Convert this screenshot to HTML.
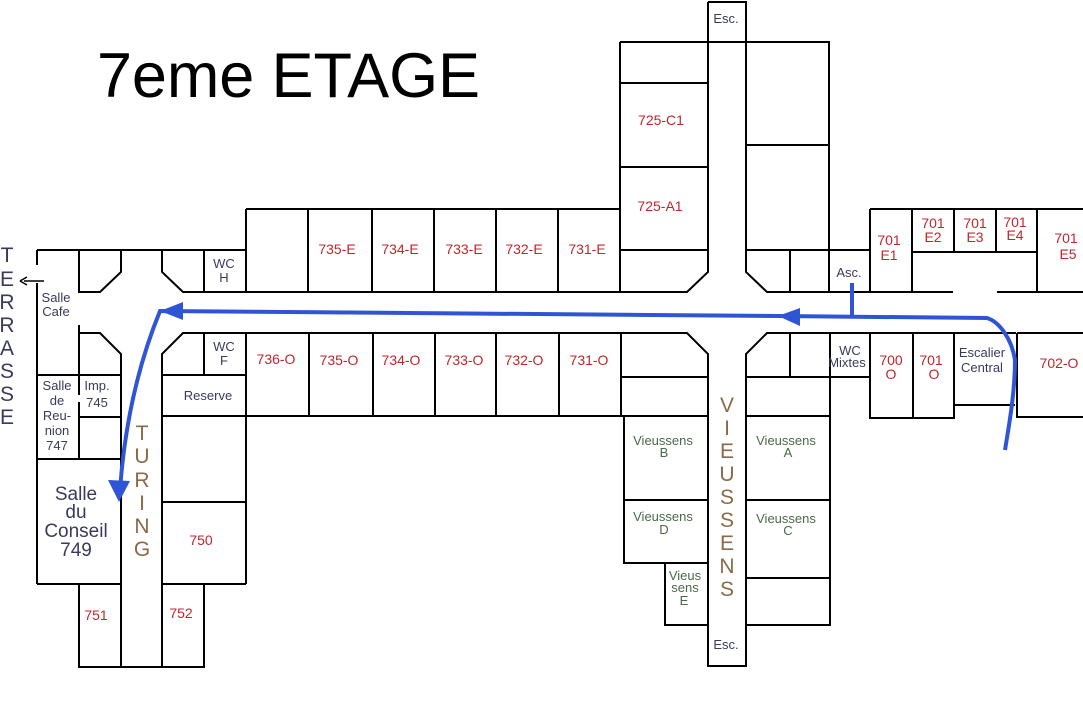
<!DOCTYPE html>
<html><head><meta charset="utf-8"><style>
html,body{margin:0;padding:0;background:#fff;width:1083px;height:715px;overflow:hidden}
svg{display:block}
text{font-family:"Liberation Sans",sans-serif}
.r{fill:#c0262c;font-size:14px;text-anchor:middle}
.b{fill:#3a3a5c;font-size:13px;text-anchor:middle}
.g{fill:#4a6a4a;font-size:13px;text-anchor:middle}
.br{fill:#8a6a48;font-size:21px;text-anchor:middle}
</style></head><body>
<svg width="1083" height="715" viewBox="0 0 1083 715" xmlns="http://www.w3.org/2000/svg">
<text x="97" y="97" font-size="63" textLength="383" fill="#000">7eme ETAGE</text>
<g fill="none" stroke="#000" stroke-width="2">
<!-- left section top -->
<path d="M37,250 H246 M37,250 V265 M37,283 V584 M79,250 V292 H100 L121,272 V250 M162,250 V272 L183,292 H246 M204,250 V292"/>
<!-- left lower -->
<path d="M79,325 V333 H100 L121,354 V667 M79,333 V375 M37,375 H121 M79,375 V395 M79,402 V459 M79,417 H121 M121,375 V390 M37,459 H121 M37,584 H121 M79,584 V667 H204 V584 M162,667 V354 L183,333 H246 M204,333 V375 M162,375 H246 M162,416 H246 M162,502 H246 M162,584 H246 M246,333 V584"/>
<!-- middle top row -->
<path d="M246,209 H620 M246,209 V292 M308,209 V292 M372,209 V292 M434,209 V292 M496,209 V292 M558,209 V292 M620,42 V292 M246,292 H687 L708,272 V42 M620,42 H829 V250 M620,83 H708 M620,167 H708 M620,250 H708 M708,2 H746 V42 M708,2 V42 M746,42 V272 L767,292 H953 M746,145 H829 M746,250 H870 M790,250 V292 M829,250 V292 M870,209 V292 M870,209 H1083 M912,209 V292 M912,252 H1037 M954,209 V252 M996,209 V252 M1037,209 V292 M997,292 H1083"/>
<!-- middle bottom row -->
<path d="M246,333 H687 L708,354 V625 M309,333 V416 M373,333 V416 M435,333 V416 M496,333 V416 M559,333 V416 M621,333 V416 M246,416 H624 M620,377 H708 M624,416 H708 M624,416 V563 H665 V625 H708 M624,500 H708 M665,563 H708 M708,625 V666 H746 V625 M746,625 V354 L767,333 H1016 M790,333 V377 M830,333 V416 M870,333 V418 H954 V333 M913,333 V418 M954,405 H1015 M746,377 H870 M746,416 H830 V625 H746 M746,500 H830 M746,578 H830 M1017,333 H1083 M1017,333 V417 H1083"/>
</g>
<!-- terrasse arrow -->
<path d="M44,281 H24" stroke="#000" stroke-width="1.5"/>
<path d="M20,281 L27,277 M20,281 L27,285" stroke="#000" stroke-width="1.5"/>
<g font-size="21" fill="#3a3a5c" text-anchor="middle" font-family="Liberation Sans">
<text x="7" y="262">T</text><text x="7" y="286">E</text><text x="7" y="309">R</text><text x="7" y="332">R</text><text x="7" y="355">A</text><text x="7" y="378">S</text><text x="7" y="401">S</text><text x="7" y="424">E</text>
</g>
<!-- labels -->
<text class="b" x="56" y="302">Salle</text><text class="b" x="56" y="316">Cafe</text>
<text class="b" x="224" y="268">WC</text><text class="b" x="224" y="282">H</text>
<text class="b" x="224" y="351">WC</text><text class="b" x="224" y="365">F</text>
<text class="b" x="208" y="400" font-size="14">Reserve</text>
<text class="b" x="57" y="390">Salle</text><text class="b" x="57" y="405">de</text><text class="b" x="57" y="420">Reu-</text><text class="b" x="57" y="435">nion</text><text class="b" x="57" y="450">747</text>
<text class="b" x="97" y="390">Imp.</text><text class="b" x="97" y="407">745</text>
<g fill="#3a3a5c" font-size="19" text-anchor="middle"><text x="76" y="500">Salle</text><text x="76" y="518">du</text><text x="76" y="537">Conseil</text><text x="76" y="556">749</text></g>
<text class="r" x="201" y="545">750</text>
<text class="r" x="96" y="620">751</text>
<text class="r" x="181" y="618">752</text>
<g class="br"><text class="br" x="142" y="440">T</text><text class="br" x="142" y="463">U</text><text class="br" x="142" y="487">R</text><text class="br" x="142" y="510">I</text><text class="br" x="142" y="533">N</text><text class="br" x="142" y="556">G</text></g>
<text class="r" x="337" y="254">735-E</text><text class="r" x="400" y="254">734-E</text><text class="r" x="464" y="254">733-E</text><text class="r" x="524" y="254">732-E</text><text class="r" x="587" y="254">731-E</text>
<text class="r" x="276" y="364">736-O</text><text class="r" x="339" y="365">735-O</text><text class="r" x="401" y="365">734-O</text><text class="r" x="464" y="365">733-O</text><text class="r" x="524" y="365">732-O</text><text class="r" x="589" y="365">731-O</text>
<text class="r" x="661" y="125">725-C1</text><text class="r" x="660" y="211">725-A1</text>
<text class="b" x="726" y="23">Esc.</text><text class="b" x="726" y="649">Esc.</text>
<text class="b" x="849" y="277">Asc.</text>
<text class="r" x="889" y="245">701</text><text class="r" x="889" y="260">E1</text>
<text class="r" x="933" y="228">701</text><text class="r" x="933" y="242">E2</text>
<text class="r" x="975" y="228">701</text><text class="r" x="975" y="242">E3</text>
<text class="r" x="1015" y="227">701</text><text class="r" x="1015" y="240">E4</text>
<text class="r" x="1066" y="243">701</text><text class="r" x="1068" y="259">E5</text>
<text class="b" x="850" y="355">WC</text><text class="b" x="847" y="367" font-size="9">Mixtes</text>
<text class="r" x="891" y="365">700</text><text class="r" x="891" y="379">O</text>
<text class="r" x="931" y="365">701</text><text class="r" x="934" y="379">O</text>
<text class="b" x="982" y="357">Escalier</text><text class="b" x="982" y="372">Central</text>
<text class="r" x="1059" y="368">702-O</text>
<text class="g" x="663" y="445">Vieussens</text><text class="g" x="664" y="457">B</text>
<text class="g" x="786" y="445">Vieussens</text><text class="g" x="788" y="457">A</text>
<text class="g" x="663" y="521">Vieussens</text><text class="g" x="664" y="534">D</text>
<text class="g" x="786" y="523">Vieussens</text><text class="g" x="788" y="535">C</text>
<text class="g" x="685" y="580">Vieus</text><text class="g" x="685" y="592">sens</text><text class="g" x="684" y="605">E</text>
<g class="br"><text class="br" x="727" y="412">V</text><text class="br" x="727" y="435">I</text><text class="br" x="727" y="458">E</text><text class="br" x="727" y="481">U</text><text class="br" x="727" y="504">S</text><text class="br" x="727" y="527">S</text><text class="br" x="727" y="550">E</text><text class="br" x="727" y="573">N</text><text class="br" x="727" y="596">S</text></g>
<!-- blue path -->
<g stroke="#2f55d4" stroke-width="4" fill="none">
<path d="M1005,450 C1010,420 1015,390 1015,360 C1012,340 1000,322 987,318 L780,316 L160,311 C140,360 125,420 120,490"/>
<path d="M852,283 V316"/>
</g>
<g fill="#2f55d4">
<polygon points="778,316 800,308 800,326"/>
<polygon points="160,311 183,302 183,320"/>
<polygon points="119,502 108,480 130,481"/>
</g>
</svg>
</body></html>
